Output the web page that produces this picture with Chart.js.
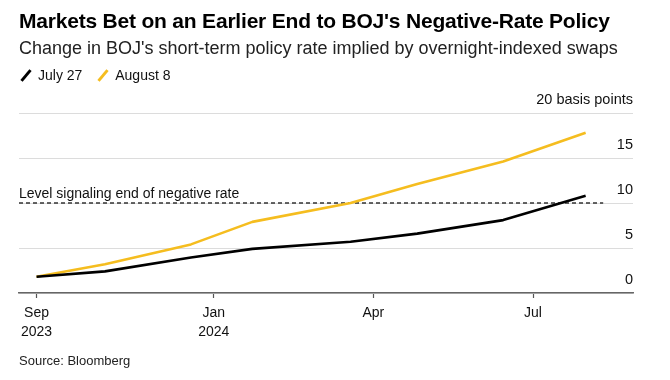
<!DOCTYPE html>
<html>
<head>
<meta charset="utf-8">
<script src="https://cdn.jsdelivr.net/npm/chart.js@4"></script>
<style>
  html, body { margin: 0; padding: 0; background: #fff; }
  body { width: 670px; height: 380px; position: relative; overflow: hidden;
         font-family: "Liberation Sans", Arial, Helvetica, sans-serif; color: #000; }
  #chart { position: absolute; left: 0; top: 0; }
  .title { position: absolute; left: 19px; top: 9px; font-size: 21px; font-weight: bold; letter-spacing: -0.2px; }
  .sub { position: absolute; left: 19px; top: 38px; font-size: 18px; color: #222; }
  .legend { position: absolute; left: 19px; top: 67px; font-size: 14px; color: #111; }
  .legend span.item { display: inline-block; margin-right: 10px; }
  .legend i { display: inline-block; width: 14px; height: 3px; transform: rotate(-50deg);
              vertical-align: middle; margin: 0 5px 2px 0; }
  .source { position: absolute; left: 19px; top: 353px; font-size: 13px; color: #222; }
</style>
</head>
<body>
<canvas id="chart" width="670" height="380"></canvas>
<div class="title">Markets Bet on an Earlier End to BOJ's Negative-Rate Policy</div>
<div class="sub">Change in BOJ's short-term policy rate implied by overnight-indexed swaps</div>
<div class="legend">
  <span class="item"><i style="background:#000"></i>July 27</span>
  <span class="item"><i style="background:#f5bd1f"></i>August 8</span>
</div>
<div class="source">Source: Bloomberg</div>
<script>
// BOJ meeting dates on the swap curve
const meetings = ['2023-09-22', '2023-10-31', '2023-12-19', '2024-01-23',
                  '2024-03-19', '2024-04-26', '2024-06-14', '2024-07-31'];
const july27 = [1.8, 2.4, 3.95, 4.9, 5.7, 6.6, 8.1, 10.8];
const august8 = [1.8, 3.2, 5.4, 7.9, 10.0, 12.1, 14.6, 17.8];

const threshold = 10;
const thresholdLabel = 'Level signaling end of negative rate';
const thresholdEnd = '2024-08-10';

const axisStart = '2023-09-12';
const axisEnd = '2024-08-27';
const xTicks = ['2023-09-22', '2024-01-01', '2024-04-01', '2024-07-01'];
const xTickLabels = [['Sep', '2023'], ['Jan', '2024'], ['Apr'], ['Jul']];
const yTicks = [0, 5, 10, 15, 20];

function day(s) {
  var p = s.split('-');
  return Date.UTC(+p[0], +p[1] - 1, +p[2]) / 86400000;
}

function series(vals) {
  return meetings.map(function (d, i) { return { x: day(d), y: vals[i] }; });
}

const thresholdText = {
  id: 'thresholdText',
  afterDatasetsDraw(chart) {
    const ctx = chart.ctx;
    const y = chart.scales.y.getPixelForValue(threshold);
    ctx.save();
    ctx.font = '14px "Liberation Sans", Arial, sans-serif';
    ctx.fillStyle = '#111';
    ctx.textBaseline = 'alphabetic';
    ctx.fillText(thresholdLabel, chart.chartArea.left, y - 5);
    ctx.restore();
  }
};

new Chart(document.getElementById('chart'), {
  type: 'line',
  data: {
    datasets: [
      { label: 'July 27', data: series(july27), borderColor: '#000', borderWidth: 2.6,
        pointRadius: 0, tension: 0, borderJoinStyle: 'round' },
      { label: 'August 8', data: series(august8), borderColor: '#f5bd1f', borderWidth: 2.6,
        pointRadius: 0, tension: 0, borderJoinStyle: 'round' },
      { label: 'threshold', data: [{ x: day(axisStart), y: threshold }, { x: day(thresholdEnd), y: threshold }],
        borderColor: '#333', borderWidth: 1.4, borderDash: [4, 3], pointRadius: 0 }
    ]
  },
  options: {
    responsive: false,
    animation: false,
    layout: { padding: { left: 19, right: 37, top: 113, bottom: 0 } },
    plugins: { legend: { display: false }, tooltip: { enabled: false } },
    scales: {
      x: {
        type: 'linear',
        min: day(axisStart),
        max: day(axisEnd),
        afterBuildTicks: function (scale) {
          scale.ticks = xTicks.map(function (d) { return { value: day(d) }; });
        },
        afterFit: function (scale) { scale.height = 380 - 113 - 180; },
        grid: { drawOnChartArea: false, drawTicks: true, tickLength: 5, tickColor: '#555', tickWidth: 1.2 },
        border: { display: true, color: '#666', width: 1.6 },
        ticks: {
          autoSkip: false,
          maxRotation: 0,
          padding: 6,
          color: '#111',
          font: { family: '"Liberation Sans", Arial, sans-serif', size: 14, lineHeight: 1.35 },
          callback: function (v) {
            var i = xTicks.map(day).indexOf(v);
            return i >= 0 ? xTickLabels[i] : '';
          }
        }
      },
      y: {
        position: 'right',
        min: 0,
        max: 20,
        afterBuildTicks: function (scale) {
          scale.ticks = yTicks.map(function (v) { return { value: v }; });
        },
        afterFit: function (scale) { scale.width = 0; },
        grid: { color: '#dcdcdc', lineWidth: 1, drawTicks: false },
        border: { display: false },
        ticks: {
          mirror: true,
          padding: 0,
          labelOffset: -13,
          color: '#111',
          font: { family: '"Liberation Sans", Arial, sans-serif', size: 14.5 },
          callback: function (v) { return v === 20 ? '20 basis points' : v; }
        }
      }
    }
  },
  plugins: [thresholdText]
});
</script>
</body>
</html>
